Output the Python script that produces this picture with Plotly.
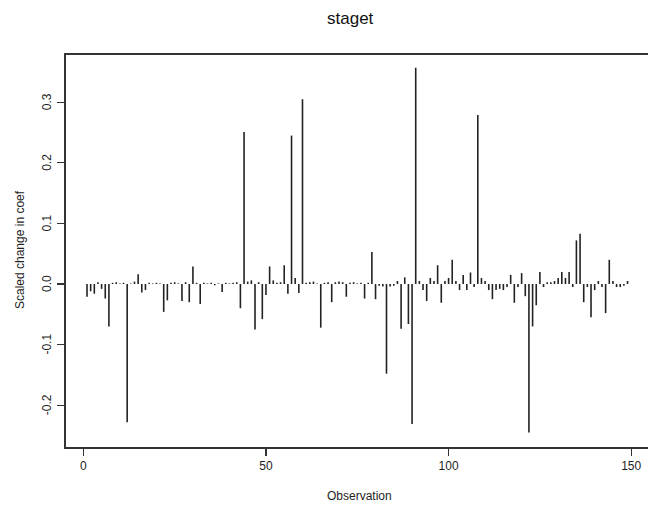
import plotly.graph_objects as go

title_text = "staget"
x_title = "Observation"
y_title = "Scaled change in coef"

observations = list(range(1, 150))
scaled_change = [
    -0.021, -0.012, -0.016, 0.003, -0.008, -0.024, -0.070, 0.002, 0.003, 0.001,
    0.002, -0.228, 0.001, 0.004, 0.016, -0.014, -0.010, 0.002, 0.001, 0.002,
    0.001, -0.046, -0.027, 0.002, 0.003, 0.001, -0.028, 0.003, -0.030, 0.029,
    0.002, -0.033, 0.002, 0.001, 0.002, -0.002, 0.001, -0.013, 0.002, 0.001,
    0.002, 0.003, -0.040, 0.251, 0.004, 0.006, -0.075, 0.003, -0.058, -0.018,
    0.029, 0.006, 0.002, 0.003, 0.031, -0.016, 0.245, 0.010, -0.015, 0.305,
    0.002, 0.003, 0.004, 0.001, -0.072, 0.002, 0.003, -0.030, 0.003, 0.004,
    0.003, -0.021, 0.002, 0.003, 0.001, 0.002, -0.024, 0.002, 0.053, -0.025,
    -0.003, -0.004, -0.148, -0.004, -0.003, 0.005, -0.074, 0.011, -0.066, -0.231,
    0.357, 0.005, -0.010, -0.028, 0.010, 0.005, 0.031, -0.031, 0.005, 0.010,
    0.040, 0.005, -0.010, 0.015, -0.010, 0.019, -0.005, 0.279, 0.010, 0.005,
    -0.010, -0.025, -0.010, -0.008, -0.010, -0.005, 0.015, -0.031, -0.005, 0.018,
    -0.020, -0.245, -0.070, -0.035, 0.020, -0.005, 0.003, 0.003, 0.005, 0.010,
    0.020, 0.010, 0.020, -0.005, 0.072, 0.083, -0.030, -0.005, -0.055, -0.010,
    0.005, -0.005, -0.048, 0.040, 0.005, -0.005, -0.005, -0.003, 0.005,
]
x_ticks = [0, 50, 100, 150]
y_ticks = [-0.2, -0.1, 0.0, 0.1, 0.2, 0.3]
y_tick_labels = ["-0.2", "-0.1", "0.0", "0.1", "0.2", "0.3"]

# vertical "h"-type lines from zero to each value
xs, ys = [], []
for o, v in zip(observations, scaled_change):
    xs += [o, o, None]
    ys += [0, v, None]

fig = go.Figure()
fig.add_trace(go.Scatter(
    x=xs, y=ys, mode="lines",
    line=dict(color="#222222", width=1.6),
    hoverinfo="skip", showlegend=False,
))

font_family = "Liberation Sans, Arial, sans-serif"
text_color = "#1e1e1e"

annotations = [
    dict(text=title_text, xref="paper", yref="paper",
         x=(350 - 66) / 582, y=1, yshift=37, showarrow=False,
         font=dict(size=17, color="#111", family=font_family),
         xanchor="center", yanchor="middle"),
    dict(text=x_title, xref="paper", yref="paper",
         x=(359 - 66) / 582, y=0, yshift=-49, showarrow=False,
         font=dict(size=12, color=text_color, family=font_family),
         xanchor="center", yanchor="middle"),
    dict(text=y_title, xref="paper", yref="paper",
         x=0, xshift=-46, y=(447 - 250) / 392, showarrow=False,
         textangle=-90,
         font=dict(size=12, color=text_color, family=font_family),
         xanchor="center", yanchor="middle"),
]
for val, lab in zip(y_ticks, y_tick_labels):
    annotations.append(dict(
        text=lab, xref="paper", yref="y", x=0, y=val, xshift=-19,
        showarrow=False, textangle=-90,
        font=dict(size=12, color=text_color, family=font_family),
        xanchor="center", yanchor="middle"))

fig.update_layout(
    width=648, height=511,
    margin=dict(l=66, r=0, t=55, b=64, autoexpand=False),
    paper_bgcolor="white", plot_bgcolor="white",
    font=dict(family=font_family, size=12, color=text_color),
    showlegend=False,
    xaxis=dict(
        range=[-4.75, 154.6], tickmode="array", tickvals=x_ticks,
        ticks="outside", ticklen=7, tickwidth=1.2, tickcolor="#333",
        showline=True, linecolor="#333", linewidth=1.6, mirror=True,
        showgrid=False, zeroline=False,
        tickfont=dict(size=12, color=text_color),
    ),
    yaxis=dict(
        range=[-0.269, 0.378], tickmode="array", tickvals=y_ticks,
        showticklabels=False,
        ticks="outside", ticklen=7, tickwidth=1.2, tickcolor="#333",
        showline=True, linecolor="#333", linewidth=1.6, mirror=False,
        showgrid=False, zeroline=False,
    ),
    annotations=annotations,
)

fig.write_html(
    "out.html",
    config={"displayModeBar": False, "staticPlot": True},
    post_script="document.body.style.margin='0';document.body.style.overflow='hidden';",
)
